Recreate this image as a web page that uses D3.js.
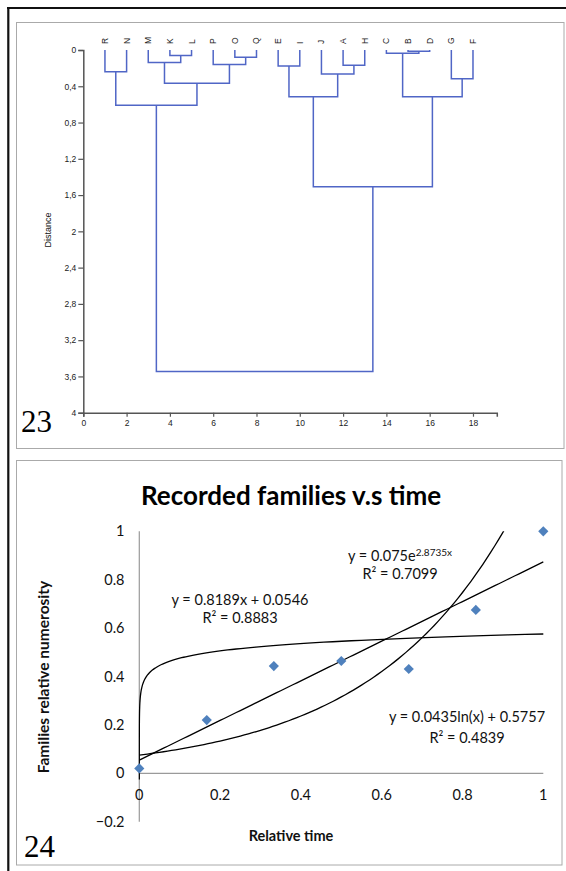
<!DOCTYPE html>
<html>
<head>
<meta charset="utf-8">
<script src="https://cdn.jsdelivr.net/npm/d3@7"></script>
<style>
  html, body { margin: 0; padding: 0; background: #fff; }
  svg { display: block; }
</style>
</head>
<body>
<svg id="fig" width="566" height="871"></svg>
<script>
// ---------- Figure 23: cluster dendrogram ----------
const leafLabels = ["R","N","M","K","L","P","O","Q","E","I","J","A","H","C","B","D","G","F"];
// linkage: node ids 0..17 are leaves, 18+ are clusters in merge order
const mergeLeft   = [0, 3, 2, 6, 5, 20, 18, 8, 11, 10, 25, 14, 13, 16, 30, 28, 24];
const mergeRight  = [1, 4, 19, 7, 21, 22, 23, 9, 12, 26, 27, 15, 29, 17, 31, 32, 33];
const mergeHeight = [0.24, 0.06, 0.137, 0.08, 0.16, 0.368, 0.61, 0.176, 0.169, 0.265, 0.515, 0.015, 0.037, 0.316, 0.515, 1.507, 3.546];
const distTicks = [0, 0.4, 0.8, 1.2, 1.6, 2, 2.4, 2.8, 3.2, 3.6, 4];
const posTicks  = [0, 2, 4, 6, 8, 10, 12, 14, 16, 18];

// ---------- Figure 24: recorded families vs time ----------
const relTime   = [0, 0.167, 0.333, 0.5, 0.667, 0.833, 1];
const relFamily = [0.02, 0.22, 0.443, 0.464, 0.431, 0.675, 1];
const linCoef = [0.8189, 0.0546];   // y = a x + b
const expCoef = [0.075, 2.8735];    // y = a e^(b x)
const logCoef = [0.0435, 0.5757];   // y = a ln(x) + b
const timeTicks   = [0, 0.2, 0.4, 0.6, 0.8, 1];
const familyTicks = [-0.2, 0, 0.2, 0.4, 0.6, 0.8, 1];

const svg = d3.select("#fig");

// page frame
svg.append("line").attr("x1", 7).attr("x2", 566).attr("y1", 8).attr("y2", 8)
  .attr("stroke", "#111").attr("stroke-width", 2.2);
svg.append("line").attr("x1", 8.3).attr("x2", 8.3).attr("y1", 7).attr("y2", 871)
  .attr("stroke", "#111").attr("stroke-width", 2.2);
svg.append("rect").attr("x", 16.5).attr("y", 22.5).attr("width", 547.5).attr("height", 426)
  .attr("fill", "none").attr("stroke", "#aaa").attr("stroke-width", 1);
svg.append("rect").attr("x", 16.5).attr("y", 460.5).attr("width", 545.5).attr("height", 404.5)
  .attr("fill", "none").attr("stroke", "#aaa").attr("stroke-width", 1);

// ===== dendrogram =====
const xD = d3.scaleLinear().domain([0, 19.1]).range([83.3, 496.8]);
const yD = d3.scaleLinear().domain([0, 4]).range([50, 412.7]);
const comma = d => String(d).replace(".", ",");

const gD = svg.append("g");
const axisColor = "#555";
const arial = "Liberation Sans, Arial, sans-serif";

const yAxisD = gD.append("g").attr("transform", `translate(${xD(0)},0)`)
  .call(d3.axisLeft(yD).tickValues(distTicks).tickSize(5).tickPadding(2).tickFormat(comma));
const xAxisD = gD.append("g").attr("transform", `translate(0,${yD(4)})`)
  .call(d3.axisBottom(xD).tickValues(posTicks).tickSize(4).tickPadding(3.5));
[yAxisD, xAxisD].forEach(a => {
  a.select(".domain").attr("stroke", axisColor).attr("stroke-width", 1.5);
  a.selectAll(".tick line").attr("stroke", axisColor).attr("stroke-width", 1.2);
  a.selectAll("text").attr("font-family", arial)
    .attr("font-size", 8.5).attr("fill", "#222");
});

gD.append("text")
  .attr("transform", `translate(51,230) rotate(-90)`)
  .attr("text-anchor", "middle")
  .attr("font-family", arial)
  .attr("font-size", 9).attr("fill", "#111")
  .text("Distance");

// compute node positions: leaf i at x = i+1, height 0
const nodeX = leafLabels.map((_, i) => i + 1);
const nodeH = leafLabels.map(() => 0);
mergeLeft.forEach((l, k) => {
  nodeX.push((nodeX[l] + nodeX[mergeRight[k]]) / 2);
  nodeH.push(mergeHeight[k]);
});

const linkColor = "#5066c6";
const links = mergeLeft.map((l, k) => {
  const r = mergeRight[k], h = mergeHeight[k];
  return `M${xD(nodeX[l])},${yD(nodeH[l])}V${yD(h)}H${xD(nodeX[r])}V${yD(nodeH[r])}`;
});
gD.selectAll("path.link").data(links).join("path")
  .attr("class", "link").attr("d", d => d)
  .attr("fill", "none").attr("stroke", linkColor).attr("stroke-width", 1.5);

gD.selectAll("text.leaf").data(leafLabels).join("text")
  .attr("class", "leaf")
  .attr("transform", (d, i) => `translate(${xD(i + 1) + 3},44) rotate(-90)`)
  .attr("text-anchor", "start")
  .attr("font-family", arial)
  .attr("font-size", 8.5).attr("fill", "#222")
  .text(d => d);

svg.append("text").attr("x", 21).attr("y", 432)
  .attr("font-family", "Liberation Serif, Times New Roman, serif")
  .attr("font-size", 31).attr("fill", "#000").text("23");

// ===== scatter with trend lines =====
const xT = d3.scaleLinear().domain([0, 1]).range([139.3, 543.3]);
const yT = d3.scaleLinear().domain([-0.2, 1]).range([821.7, 531.3]);
const calibri = "Lato, 'Open Sans', sans-serif";

const gT = svg.append("g");

gT.append("text").attr("x", 291).attr("y", 505)
  .attr("text-anchor", "middle")
  .attr("font-family", calibri).attr("font-weight", 700)
  .attr("font-size", 26).attr("fill", "#000")
  .text("Recorded families v.s time");

// axes (no tick marks, grey axis lines through the origin)
gT.append("line").attr("x1", xT(0)).attr("x2", xT(1)).attr("y1", yT(0)).attr("y2", yT(0))
  .attr("stroke", "#9a9a9a").attr("stroke-width", 1.2);
gT.append("line").attr("x1", xT(0)).attr("x2", xT(0)).attr("y1", yT(1)).attr("y2", yT(-0.2))
  .attr("stroke", "#9a9a9a").attr("stroke-width", 1.2);

gT.selectAll("text.ytick").data(familyTicks).join("text")
  .attr("class", "ytick")
  .attr("x", 124.5).attr("y", d => yT(d)).attr("dy", "0.35em")
  .attr("text-anchor", "end")
  .attr("font-family", calibri).attr("font-size", 14.5).attr("fill", "#111")
  .text(d => d3.format("")(d));
gT.selectAll("text.xtick").data(timeTicks).join("text")
  .attr("class", "xtick")
  .attr("x", d => xT(d)).attr("y", yT(0) + 22).attr("dy", "0.35em")
  .attr("text-anchor", "middle")
  .attr("font-family", calibri).attr("font-size", 14.5).attr("fill", "#111")
  .text(d => d3.format("")(d));

gT.append("text")
  .attr("transform", `translate(49,677) rotate(-90)`)
  .attr("text-anchor", "middle")
  .attr("font-family", calibri).attr("font-weight", 700)
  .attr("font-size", 15.5).attr("fill", "#111")
  .text("Families relative numerosity");
gT.append("text").attr("x", 291).attr("y", 836).attr("dy", "0.35em")
  .attr("text-anchor", "middle")
  .attr("font-family", calibri).attr("font-weight", 700)
  .attr("font-size", 14.5).attr("fill", "#111")
  .text("Relative time");

// trend lines, clipped to the plot area
svg.append("clipPath").attr("id", "plotClip").append("rect")
  .attr("x", xT(0) - 1).attr("y", yT(1)).attr("width", xT(1) - xT(0) + 2).attr("height", yT(-0.2) - yT(1));
const gTrend = gT.append("g").attr("clip-path", "url(#plotClip)");
const line = d3.line().x(d => xT(d[0])).y(d => yT(d[1]));
const xsLin = d3.range(0, 1.0001, 0.01);
const xsLog = d3.range(-6, 0.0001, 0.02).map(e => Math.pow(10, e));

const trends = [
  xsLin.map(x => [x, linCoef[0] * x + linCoef[1]]),
  xsLin.map(x => [x, expCoef[0] * Math.exp(expCoef[1] * x)]),
  xsLog.map(x => [x, logCoef[0] * Math.log(x) + logCoef[1]])
];
gTrend.selectAll("path").data(trends).join("path")
  .attr("d", line).attr("fill", "none").attr("stroke", "#000").attr("stroke-width", 1.3);

// observed points as diamonds
const diamond = d3.symbol().type(d3.symbolSquare).size(52);
gT.selectAll("path.pt").data(relTime.map((t, i) => [t, relFamily[i]])).join("path")
  .attr("class", "pt")
  .attr("transform", d => `translate(${xT(d[0])},${yT(d[1])}) rotate(45)`)
  .attr("d", diamond).attr("fill", "#4f81bd");

// equation labels
function eq(x, y, parts) {
  const t = gT.append("text").attr("x", x).attr("y", y).attr("dy", "0.35em")
    .attr("text-anchor", "middle").attr("font-family", calibri)
    .attr("font-size", 14.5).attr("fill", "#111");
  parts.forEach(p => {
    const s = t.append("tspan").text(p.t);
    if (p.sup) s.attr("font-size", 10).attr("dy", "-0.5em");
  });
}
eq(240, 600, [{t: "y = 0.8189x + 0.0546"}]);
eq(240, 618, [{t: "R² = 0.8883"}]);
eq(400, 556, [{t: "y = 0.075e"}, {t: "2.8735x", sup: true}]);
eq(400, 574, [{t: "R² = 0.7099"}]);
eq(467, 717, [{t: "y = 0.0435ln(x) + 0.5757"}]);
eq(467, 738, [{t: "R² = 0.4839"}]);

svg.append("text").attr("x", 24).attr("y", 857)
  .attr("font-family", "Liberation Serif, Times New Roman, serif")
  .attr("font-size", 31).attr("fill", "#000").text("24");
</script>
</body>
</html>
